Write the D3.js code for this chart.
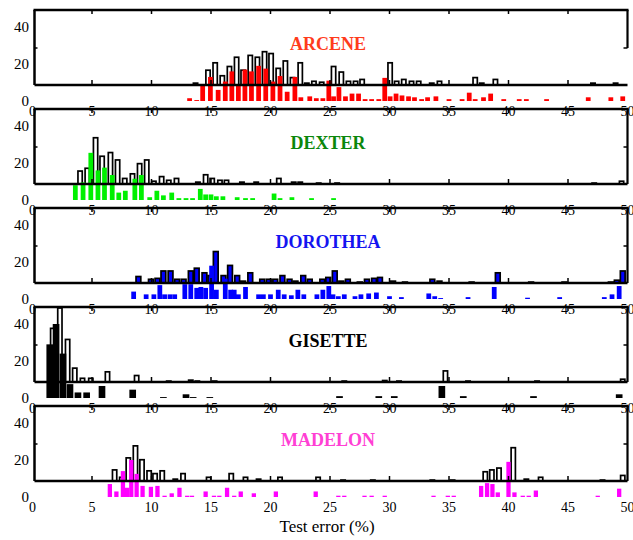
<!DOCTYPE html>
<html>
<head>
<meta charset="utf-8">
<script src="https://cdn.jsdelivr.net/npm/d3@7"></script>
<style>
  body { margin: 0; background: #fff; }
</style>
</head>
<body>
<svg id="chart" width="633" height="540" font-family="'Liberation Serif', 'Times New Roman', serif"></svg>
<script>
// dataset names and colours
const datasets = ["ARCENE", "DEXTER", "DOROTHEA", "GISETTE", "MADELON"];
const labelColors = ["#ff3c1c", "#0b870b", "#1414f0", "#000000", "#ff40d4"];
const barColors = ["#ff0000", "#00f000", "#0000ff", "#000000", "#ff00ff"];
const allFill = ["#fff", "#fff", "#0000ff", "#fff", "#fff"];
const xTicks = [0, 5, 10, 15, 20, 25, 30, 35, 40, 45, 50];
const yTicks = [0, 20, 40];

// outlined histogram (all entries): bin centre (test error %) and count
const arceneAllX = [13.7, 14.75, 15.35, 15.95, 16.55, 17.15, 17.7, 18.3, 18.9, 19.5, 20.05, 20.65, 21.25, 21.85, 22.5, 23.05, 23.65, 24.3, 25.3, 25.95, 26.55, 27.15, 27.7, 30.05, 30.6, 31.2, 31.85, 32.45, 33.55, 34.2, 37.2, 37.75, 38.9, 47.1, 49.0];
const arceneAllN = [1, 8, 12, 5, 10, 15, 8, 16, 15, 18, 17, 9, 13, 4, 12, 1, 2, 1.5, 10, 7, 2, 2, 3, 12, 2, 3, 2, 2, 1, 2, 4, 1, 3, 1, 1];
const dexterAllX = [4.0, 4.6, 5.3, 5.85, 6.55, 7.15, 7.75, 8.4, 9.0, 9.6, 10.2, 10.85, 11.45, 12.1, 13.9, 14.55, 15.1, 15.75, 16.3, 17.6, 18.8, 20.7, 21.95, 22.5, 24.05, 25.6, 47.2, 49.5];
const dexterAllN = [7, 8.5, 25, 15, 17, 13, 3, 5.5, 11, 13, 1.5, 4, 2, 3, 1, 5, 3, 2, 2, 1, 1, 3, 1, 1, 0.5, 0.5, 0.5, 1.5];
const dorotheaAllX = [8.9, 9.95, 10.5, 11.0, 11.6, 12.15, 12.7, 13.3, 13.8, 14.45, 14.95, 15.4, 16.05, 16.6, 17.2, 17.7, 18.3, 19.3, 19.85, 20.4, 21.0, 21.6, 22.1, 22.75, 23.3, 24.35, 24.85, 25.4, 25.95, 26.5, 27.5, 28.1, 28.7, 29.2, 30.3, 31.3, 33.6, 34.2, 36.9, 39.1, 41.9, 44.7, 48.6, 49.1, 49.6];
const dorotheaAllN = [3.5, 2, 2.5, 6.5, 6.5, 2, 2, 6.5, 8, 5.5, 4, 17, 4, 9.5, 4, 1, 5.5, 2, 2, 2, 4, 2, 1, 4, 2, 2, 3, 6.5, 1, 2, 0.5, 2, 2.5, 3, 1, 0.5, 2, 1, 0.5, 5.5, 0.5, 0.5, 0.5, 1.5, 6.5];
const gisetteAllX = [1.7, 2.3, 2.95, 3.55, 4.2, 4.9, 6.3, 8.75, 11.45, 13.3, 13.85, 15.3, 26.2, 29.6, 30.8, 34.7, 36.6, 42.4, 49.6];
const gisetteAllN = [29, 40, 23, 7.5, 2, 2, 5.5, 3.5, 0.5, 1, 0.5, 0.5, 0.5, 0.8, 0.5, 6, 0.5, 0.5, 1.5];
const madelonAllX = [6.9, 7.5, 8.05, 8.65, 9.2, 9.8, 10.3, 10.9, 12.0, 12.65, 14.8, 16.7, 17.9, 19.0, 20.8, 24.0, 26.1, 28.6, 33.6, 35.3, 38.05, 38.6, 39.2, 40.4, 41.5, 42.7, 47.9, 49.6];
const madelonAllN = [6, 2, 12.5, 19, 11.5, 5.5, 4, 5.5, 1, 4, 2, 4, 2, 1, 2, 2, 0.5, 0.5, 0.5, 0.5, 5, 6, 7, 18, 1, 2, 0.5, 3];

// filled histogram (selected entries): bin centre and count
const arceneSelX = [13.2, 13.8, 14.3, 14.95, 15.6, 16.2, 16.75, 17.3, 17.85, 18.4, 19.0, 19.6, 20.2, 20.8, 21.4, 22.05, 22.55, 23.3, 23.85, 24.4, 24.9, 25.3, 25.75, 26.3, 26.85, 27.4, 27.95, 28.5, 29.1, 29.6, 30.05, 30.55, 31.05, 31.6, 32.1, 32.7, 33.2, 33.9, 35.0, 36.1, 36.7, 37.2, 37.9, 38.5, 39.6, 40.9, 41.5, 43.2, 46.7, 48.6, 49.6];
const arceneSelN = [1.5, 0.5, 9, 13, 6, 10.5, 16, 9, 17, 16, 19, 17.5, 10.5, 13.5, 5, 13, 2, 2.5, 1.5, 1.5, 11, 2.5, 7.5, 2.5, 4, 4, 1, 1, 1, 12.5, 2.5, 4, 3, 2.5, 2, 1, 2, 2.5, 1, 1, 4.5, 1, 2, 4, 1, 1, 1, 1, 2, 2, 2.5];
const dexterSelX = [3.6, 4.25, 4.9, 5.5, 6.05, 6.7, 7.25, 7.8, 8.6, 9.15, 9.85, 10.45, 11.0, 11.7, 12.3, 12.9, 13.45, 14.1, 14.55, 15.0, 15.45, 16.0, 17.2, 17.9, 18.5, 20.3, 20.8, 21.8, 23.45, 25.3];
const dexterSelN = [8, 9.5, 25.5, 16, 17.5, 13.5, 4, 5, 11.5, 13.5, 1.5, 5, 2.5, 4, 1, 1, 1, 6, 3, 3, 2, 2, 1.5, 1, 1, 3.5, 1, 1.5, 1, 1];
const dorotheaSelX = [8.5, 9.55, 10.2, 10.7, 11.1, 11.55, 11.95, 12.8, 13.3, 13.8, 14.15, 14.55, 15.05, 15.45, 16.2, 16.65, 16.95, 17.3, 17.9, 19.0, 19.4, 20.0, 20.65, 21.15, 21.75, 22.3, 22.8, 23.9, 24.4, 24.9, 25.25, 25.7, 26.2, 27.1, 27.6, 28.25, 28.9, 30.0, 31.0, 33.3, 33.8, 34.3, 36.6, 38.8, 41.6, 44.3, 48.05, 48.7, 49.3];
const dorotheaSelN = [4, 2.5, 2.5, 7.5, 2.5, 2.5, 2.5, 8, 8, 6, 6.5, 6, 18, 5, 11, 5, 5, 2.5, 6.5, 2.5, 2.5, 2.5, 5, 2.5, 2, 5, 2.5, 2.5, 5, 7, 2.5, 1.5, 2.5, 1.5, 2.5, 3, 3.5, 1.5, 1, 3, 1.5, 0.5, 1, 6.5, 0.7, 1, 1, 2.5, 7];
const gisetteSelX = [1.45, 1.98, 2.56, 3.15, 3.82, 4.55, 5.84, 8.42, 11.0, 12.9, 13.5, 14.9, 25.8, 29.1, 30.4, 34.4, 36.2, 42.1, 49.3];
const gisetteSelN = [29, 40, 24, 7.5, 3, 3, 6.5, 4.5, 0.5, 2, 0.5, 0.5, 1, 1, 1, 6.5, 1, 1, 2];
const madelonSelX = [6.5, 7.05, 7.6, 7.95, 8.3, 8.75, 9.25, 9.95, 10.5, 11.1, 11.7, 12.35, 13.0, 13.4, 14.55, 15.25, 15.7, 16.35, 16.95, 17.5, 18.6, 20.45, 23.8, 25.7, 26.2, 27.9, 28.5, 29.6, 33.7, 34.9, 35.4, 37.7, 38.2, 38.65, 39.1, 40.0, 40.5, 41.2, 41.7, 42.3, 47.5, 49.3];
const madelonSelN = [7, 3, 14, 5, 20, 12.5, 6, 5.5, 6, 0.7, 2, 5, 0.7, 0.7, 3, 0.7, 0.7, 5, 0.7, 3, 2, 3, 3, 0.7, 0.7, 0.7, 0.7, 0.7, 0.7, 0.7, 0.7, 6, 7.5, 7, 2.5, 19, 2.5, 0.7, 0.7, 3.5, 0.7, 4.5];

const allX = [arceneAllX, dexterAllX, dorotheaAllX, gisetteAllX, madelonAllX];
const allN = [arceneAllN, dexterAllN, dorotheaAllN, gisetteAllN, madelonAllN];
const selX = [arceneSelX, dexterSelX, dorotheaSelX, gisetteSelX, madelonSelX];
const selN = [arceneSelN, dexterSelN, dorotheaSelN, gisetteSelN, madelonSelN];
const selWidth = [0.4, 0.4, 0.4, 0.56, 0.36];
const allWidth = [0.36, 0.36, 0.4, 0.36, 0.36];

const svg = d3.select("#chart");
const x = d3.scaleLinear().domain([0, 50]).range([32.5, 627.5]);
const frameLeft = x(0) + 2;
const frameRight = x(50);

datasets.forEach((name, k) => {
  const top = 10 + 99 * k;
  const blackBase = top + 75;
  const colorBase = top + 91;
  const yB = d3.scaleLinear().domain([0, 40]).range([blackBase, blackBase - 74]);
  const yC = d3.scaleLinear().domain([0, 40]).range([colorBase, colorBase - 74]);
  const g = svg.append("g");

  // x tick labels of the filled histogram (covered by the next frame)
  g.selectAll(".xl").data(xTicks).enter().append("text")
    .attr("x", d => x(d)).attr("y", colorBase + 15)
    .attr("text-anchor", "middle").attr("font-size", 14)
    .text(d => d);

  // y tick labels
  g.selectAll(".yl").data(yTicks).enter().append("text")
    .attr("x", 29).attr("y", d => yC(d)).attr("dy", "0.35em")
    .attr("text-anchor", "end").attr("font-size", 15)
    .text(d => d);

  // outlined bars
  const allData = allX[k].map((v, i) => ({ x: v, n: allN[k][i] }));
  const wA = x(allWidth[k]) - x(0);
  g.selectAll(".all").data(allData).enter().append("rect")
    .attr("x", d => x(d.x) - wA / 2).attr("width", wA)
    .attr("y", d => yB(d.n)).attr("height", d => yB(0) - yB(d.n))
    .attr("fill", allFill[k]).attr("stroke", "#000").attr("stroke-width", 1.7);

  // filled bars
  const selData = selX[k].map((v, i) => ({ x: v, n: selN[k][i] }));
  const wS = x(selWidth[k]) - x(0);
  g.selectAll(".sel").data(selData).enter().append("rect")
    .attr("x", d => x(d.x) - wS / 2).attr("width", wS)
    .attr("y", d => yC(d.n)).attr("height", d => yC(0) - yC(d.n))
    .attr("fill", barColors[k]);

  // frame
  const line = (x1, y1, x2, y2, w) => g.append("line")
    .attr("x1", x1).attr("y1", y1).attr("x2", x2).attr("y2", y2)
    .attr("stroke", "#000").attr("stroke-width", w);
  line(frameLeft - 1, top, frameRight + 1, top, 2.5);
  line(frameLeft, top, frameLeft, blackBase, 2.5);
  line(frameRight, top, frameRight, k === 0 ? yB(20) : blackBase, 2.2);
  line(frameLeft, blackBase, frameRight, blackBase, 2.5);
  xTicks.slice(1, -1).forEach(t => {
    line(x(t), top, x(t), top + 4, 1.5);
    line(x(t), blackBase, x(t), blackBase - 5, 1.5);
  });
  line(frameLeft, yB(20), frameLeft + 3, yB(20), 1.5);
  line(frameRight, yB(20), frameRight - 4, yB(20), 1.5);

  // dataset name
  g.append("text")
    .attr("x", 328).attr("y", top + 40)
    .attr("text-anchor", "middle").attr("font-size", 18).attr("font-weight", "bold")
    .attr("fill", labelColors[k])
    .text(name);
});

svg.append("text")
  .attr("x", 327).attr("y", 532)
  .attr("text-anchor", "middle").attr("font-size", 17)
  .text("Test error (%)");
</script>
</body>
</html>
